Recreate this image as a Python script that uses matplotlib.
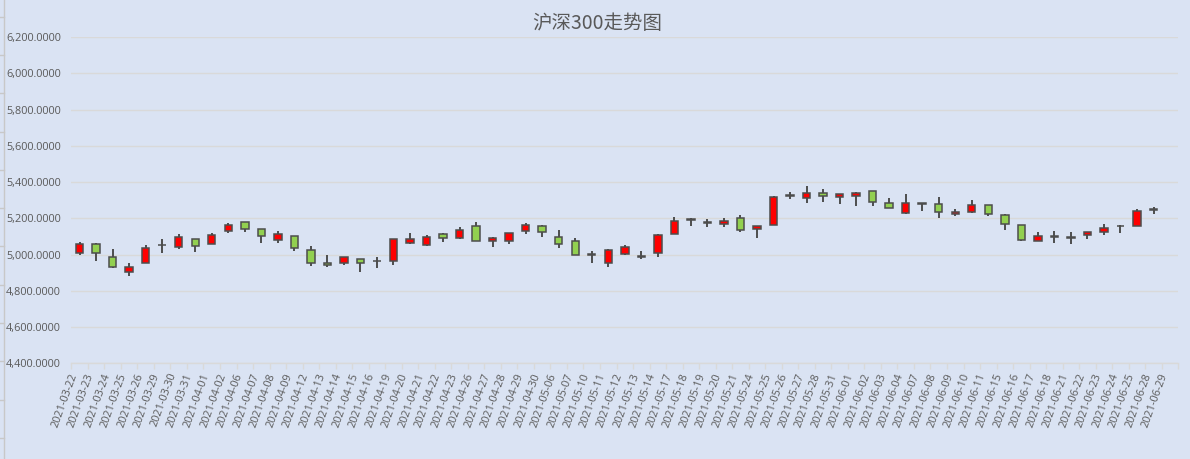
# 沪深300 candlestick chart
import numpy as np
import matplotlib
matplotlib.use('Agg')
import matplotlib.pyplot as plt
from matplotlib.lines import Line2D

# data
dates = ['2021-03-22', '2021-03-23', '2021-03-24', '2021-03-25', '2021-03-26', '2021-03-29',
         '2021-03-30', '2021-03-31', '2021-04-01', '2021-04-02', '2021-04-06', '2021-04-07',
         '2021-04-08', '2021-04-09', '2021-04-12', '2021-04-13', '2021-04-14', '2021-04-15',
         '2021-04-16', '2021-04-19', '2021-04-20', '2021-04-21', '2021-04-22', '2021-04-23',
         '2021-04-26', '2021-04-27', '2021-04-28', '2021-04-29', '2021-04-30', '2021-05-06',
         '2021-05-07', '2021-05-10', '2021-05-11', '2021-05-12', '2021-05-13', '2021-05-14',
         '2021-05-17', '2021-05-18', '2021-05-19', '2021-05-20', '2021-05-21', '2021-05-24',
         '2021-05-25', '2021-05-26', '2021-05-27', '2021-05-28', '2021-05-31', '2021-06-01',
         '2021-06-02', '2021-06-03', '2021-06-04', '2021-06-07', '2021-06-08', '2021-06-09',
         '2021-06-10', '2021-06-11', '2021-06-15', '2021-06-16', '2021-06-17', '2021-06-18',
         '2021-06-21', '2021-06-22', '2021-06-23', '2021-06-24', '2021-06-25', '2021-06-28',
         '2021-06-29']

opens = [5009, 5060, 4989, 4905, 4954, 5050, 5042, 5088, 5058, 5130, 5181, 5142,
         5082, 5104, 5027, 4951, 4951, 4973, 4962, 4967, 5064, 5053, 5115, 5093,
         5159, 5077, 5077, 5132, 5159, 5099, 5077, 5005, 4956, 5005, 4989, 5011,
         5115, 5190, 5172, 5170, 5203, 5142, 5164, 5325, 5312, 5340, 5318, 5323,
         5351, 5285, 5230, 5285, 5279, 5225, 5236, 5274, 5219, 5164, 5077, 5099,
         5089, 5110, 5126, 5155, 5159, 5247, np.nan]
highs = [5071, 5066, 5029, 4951, 5055, 5088, 5111, 5088, 5117, 5172, 5181, 5142,
         5132, 5104, 5047, 4995, 4989, 4973, 4984, 5088, 5121, 5110, 5121, 5153,
         5181, 5099, 5121, 5172, 5164, 5137, 5093, 5022, 5033, 5055, 5022, 5115,
         5208, 5203, 5197, 5203, 5219, 5159, 5323, 5345, 5378, 5362, 5334, 5345,
         5351, 5312, 5334, 5285, 5318, 5252, 5301, 5274, 5225, 5164, 5126, 5132,
         5126, 5126, 5170, 5162, 5252, 5263, np.nan]
lows = [4998, 4967, 4923, 4883, 4954, 5009, 5033, 5016, 5058, 5121, 5124, 5066,
        5066, 5022, 4934, 4929, 4945, 4901, 4923, 4945, 5058, 5047, 5069, 5086,
        5077, 5044, 5060, 5115, 5099, 5038, 5000, 4956, 4929, 5000, 4978, 4984,
        5115, 5159, 5153, 5153, 5126, 5093, 5164, 5307, 5285, 5290, 5279, 5268,
        5268, 5258, 5225, 5241, 5203, 5214, 5230, 5214, 5137, 5077, 5077, 5066,
        5060, 5088, 5110, 5121, 5159, 5225, np.nan]
closes = [5060, 5009, 4929, 4929, 5038, 5053, 5099, 5047, 5110, 5164, 5141, 5104,
          5115, 5038, 4951, 4940, 4984, 4951, 4964, 5088, 5088, 5099, 5093, 5137,
          5077, 5093, 5121, 5164, 5126, 5060, 5000, 4995, 5027, 5044, 4993, 5110,
          5186, 5192, 5174, 5186, 5137, 5159, 5318, 5327, 5340, 5323, 5334, 5340,
          5290, 5258, 5285, 5283, 5236, 5236, 5274, 5225, 5170, 5082, 5104, 5101,
          5090, 5126, 5148, 5157, 5241, 5249, np.nan]

opens = np.array(opens, dtype=float)
highs = np.array(highs, dtype=float)
lows = np.array(lows, dtype=float)
closes = np.array(closes, dtype=float)

bg = '#DAE3F3'
txt = '#595959'
up_color = '#FF0000'
down_color = '#92D050'
edge = '#4D4D4D'

plt.rcParams['font.family'] = ['Open Sans', 'DejaVu Sans']

fig = plt.figure(figsize=(11.9, 4.59), dpi=100, facecolor=bg)
ax = fig.add_axes([71.3 / 1190, 1 - 363.3 / 459, (1178.3 - 71.3) / 1190, (363.3 - 37) / 459])
ax.set_facecolor(bg)

x = np.arange(len(dates))
colors = [up_color if c >= o else down_color for o, c in zip(opens, closes)]

# wicks
ax.vlines(x, lows, highs, color=edge, linewidth=1.4, zorder=2)
# bodies (keep doji bodies visible as a short bar)
heights = closes - opens
heights = np.where(np.abs(heights) < 5, np.sign(heights + 0.01) * 5, heights)
ax.bar(x, heights, bottom=opens, width=0.45, color=colors,
       edgecolor=edge, linewidth=1.1, zorder=3)

ax.set_xlim(-0.5, len(dates) - 0.5)
ax.set_ylim(4400, 6200)
ax.set_yticks(np.arange(4400, 6201, 200))
ax.yaxis.set_major_formatter(matplotlib.ticker.FuncFormatter(lambda v, p: '{:,.4f}'.format(v)))
ax.grid(axis='y', color='#D9D9D9', linewidth=1, zorder=0)
ax.set_axisbelow(True)

ax.set_xticks(x)
ax.set_xticklabels(dates, rotation=70, ha='right', va='top', fontsize=7.8, color=txt)
ax.set_xticks(np.arange(-0.5, len(dates)), minor=True)
ax.tick_params(axis='x', which='major', length=0, pad=6)
ax.tick_params(axis='x', which='minor', length=4, color='#D9D9D9', width=1)
ax.tick_params(axis='y', length=0, pad=7.5, labelsize=7.8, labelcolor=txt)

for s in ['top', 'right', 'left']:
    ax.spines[s].set_visible(False)
ax.spines['bottom'].set_color('#D9D9D9')
ax.spines['bottom'].set_linewidth(1)

fig.text(597 / 1190, 1 - 23.5 / 459, '沪深300走势图', ha='center', va='center',
         fontsize=14, color=txt, family=['Noto Sans CJK SC', 'DejaVu Sans'])

# spreadsheet border on the far left
fig.add_artist(Line2D([3.5 / 1190, 3.5 / 1190], [0, 1], color='#C8C8C8', linewidth=1))
for yy in np.arange(16.7, 459, 38.3):
    fig.add_artist(Line2D([0, 3.5 / 1190], [1 - yy / 459] * 2, color='#C8C8C8', linewidth=1))

fig.savefig('out.png', dpi=100, facecolor=bg)
